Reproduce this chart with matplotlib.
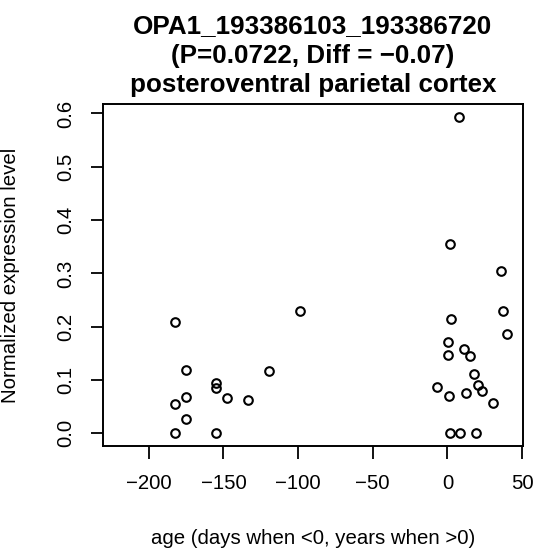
import numpy as np
import matplotlib
matplotlib.use('Agg')
import matplotlib.pyplot as plt

plt.rcParams['font.family'] = ['Liberation Sans', 'DejaVu Sans']

# values
age = [-182.4, -98.5, -175.2, -119.3, -154.7, -154.7, -175.2, -147.7, -133.4,
       -182.4, -175.2, -182.4, -154.7,
       7.8, 1.5, 36.0, 2.7, 36.9, 39.6, 0.7, 0.2, 10.9, 15.0, 18.1, -7.0,
       20.8, 23.0, 0.9, 12.7, 30.2, 2.0, 8.3, 19.0]
expr = [0.209, 0.229, 0.118, 0.116, 0.094, 0.085, 0.068, 0.067, 0.063,
        0.055, 0.026, 0.0, 0.0,
        0.594, 0.356, 0.305, 0.214, 0.230, 0.186, 0.172, 0.146, 0.158, 0.145,
        0.112, 0.087, 0.090, 0.080, 0.070, 0.075, 0.056, 0.0, 0.0, 0.0]
xticks = [-200, -150, -100, -50, 0, 50]
yticks = [0.0, 0.1, 0.2, 0.3, 0.4, 0.5, 0.6]
title_lines = ['OPA1_193386103_193386720',
               '(P=0.0722, Diff = \u22120.07)',
               'posteroventral parietal cortex']

W, H = 539, 557
fig = plt.figure(figsize=(W/100, H/100), dpi=100)
ax = fig.add_axes([103.3/W, 1-446/H, (522.7-103.3)/W, (446-104)/H])

ax.plot(age, expr, 'o', mfc='none', mec='black', ms=6.2, mew=1.5)

# R style limits: xlim c(-220, 40) + 4%
ax.set_xlim(-230.4, 50.4)
ymax = max(expr)
ax.set_ylim(-0.04*ymax, 1.04*ymax)

ax.set_xticks(xticks)
ax.set_yticks(yticks)
ax.set_yticklabels(['%.1f' % v for v in yticks], rotation=90, va='center')
ax.tick_params(axis='both', direction='out', length=9, width=1.3,
               labelsize=14.7, pad=11, color='black')
for s in ax.spines.values():
    s.set_linewidth(1.4)
    s.set_color('black')

fig.text(313/W, 1-539/H, 'age (days when <0, years when >0)',
         ha='center', va='center', fontsize=14.7)
fig.text(11/W, 1-(104+446)/2/H, 'Normalized expression level',
         ha='center', va='center', rotation=90, fontsize=14.7)

for i, ln in enumerate(title_lines):
    fig.text(313/W, 1-(33.3+29.3*i)/H, ln, ha='center', va='baseline',
             fontsize=18.7, fontweight='bold')

fig.savefig('out.png', dpi=100)
